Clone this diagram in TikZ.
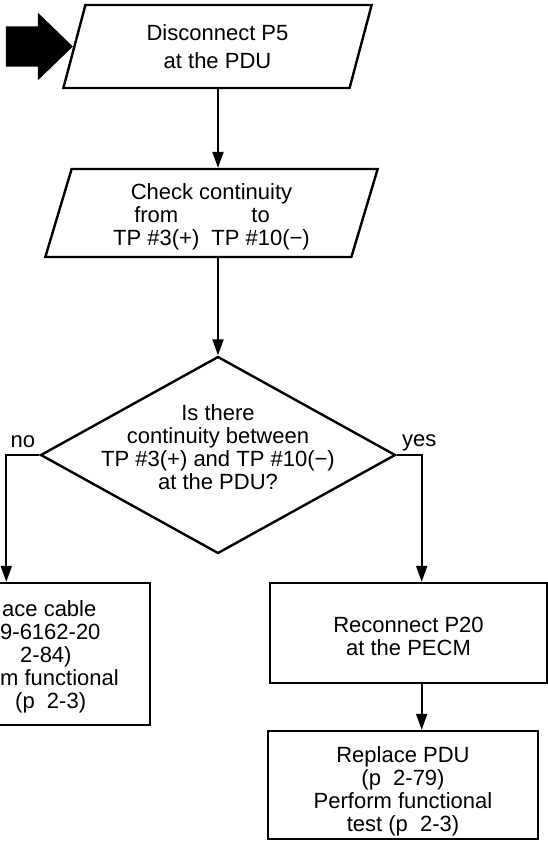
\documentclass[tikz,border=0pt]{standalone}
\usepackage{fontspec}
\setmainfont{Liberation Sans}
\usetikzlibrary{arrows.meta, positioning, shapes.geometric, shapes.arrows}

\tikzset{
    every node/.style={font=\fontsize{22}{23}\selectfont},
    flowline/.style={line width=2pt},
    flowarrow/.style={flowline, -{Triangle[length=16pt, width=11pt]}},
    iobox/.style={draw, line width=2.4pt, trapezium, trapezium left angle=75, trapezium right angle=105, trapezium stretches=true, inner sep=0pt, align=center},
    actbox/.style={draw, line width=2.4pt, inner sep=0pt, align=center},
    decbox/.style={draw, line width=2.4pt, diamond, inner sep=0pt},
}

\begin{document}
\begin{tikzpicture}[x=1pt, y=-1pt]
    \useasboundingbox (0,0) rectangle (548,855);
    \clip (0,0) rectangle (548,855);
    \node[iobox, minimum width=309pt, minimum height=83pt] (disc) at (217.5,46.5) {Disconnect P5\\[5pt]at the PDU};
    \node[iobox, minimum width=333pt, minimum height=88pt] (check) at (211.5,213) {\raisebox{-4.5pt}[\height][\depth]{\begin{tabular}{@{}c@{\hspace{12pt}}c@{}}\multicolumn{2}{c}{Check continuity}\\ from & to\\ TP \#3(+) & TP \#10(−)\end{tabular}}};
    \node[decbox, minimum width=355pt, minimum height=197pt] (dec) at (218,455) {};
    \node[align=center] (dectext) at (218,447) {Is there\\continuity between\\TP \#3(+) and TP \#10(−)\\at the PDU?};
    \node[actbox, minimum width=250pt, minimum height=142pt] (fix) at (25,654) {};
    \node[align=left, anchor=north west, inner sep=0pt] (fixtext) at (0,600) {\hspace*{2pt}ace cable\\9-6162-20\\\hspace*{20pt}2-84)\\m functional\\\hspace*{15pt}(p\ \ 2-3)};
    \node[actbox, minimum width=277pt, minimum height=100pt] (recon) at (408.5,633) {\raisebox{-11.5pt}[0pt][0pt]{\begin{tabular}{@{}c@{}}Reconnect P20\\at the PECM\end{tabular}}};
    \node[actbox, minimum width=270pt, minimum height=108pt] (replace) at (403,785) {\raisebox{-12.5pt}[0pt][0pt]{\begin{tabular}{@{}c@{}}Replace PDU\\(p\ \ 2-79)\\Perform functional\\test (p\ \ 2-3)\end{tabular}}};
    \node[single arrow, fill=black, minimum height=67pt, inner xsep=0pt, inner ysep=20pt, single arrow head extend=13.5pt, single arrow tip angle=88, anchor=tip] (entry) at (disc.west) {};

    \coordinate (nocorner) at ([xshift=-33pt]dec.west);
    \coordinate (yescorner) at ([xshift=25pt]dec.east);

    \draw[flowarrow] (disc.south -| dec.north) -- (check.north -| dec.north);
    \draw[flowarrow] (check.south -| dec.north) -- (dec.north);
    \draw[flowarrow] (dec.west) -- node[above, yshift=3pt] (nolbl) {no} (nocorner) -- (nocorner |- fix.north);
    \draw[flowarrow] (dec.east) -- node[above, pos=0.9] (yeslbl) {yes} (yescorner) -- (yescorner |- recon.north);
    \draw[flowarrow] (recon.south -| yescorner) -- (replace.north -| yescorner);
\end{tikzpicture}
\end{document}
